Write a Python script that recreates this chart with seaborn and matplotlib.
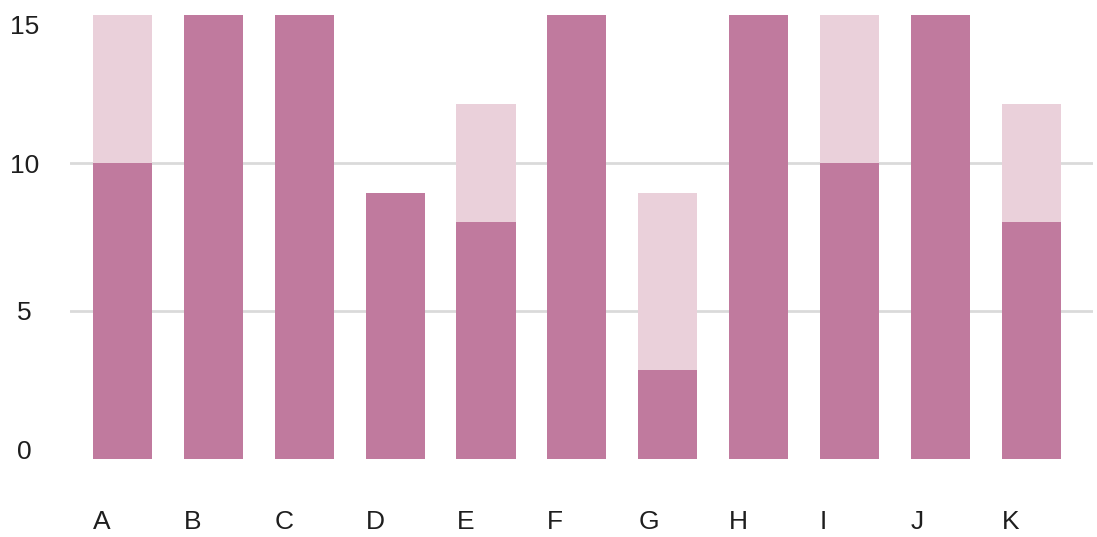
import matplotlib
matplotlib.use("Agg")
import matplotlib.pyplot as plt
import seaborn as sns
import pandas as pd

categories = ["A", "B", "C", "D", "E", "F", "G", "H", "I", "J", "K"]
base_values = [10, 18, 20, 9, 8, 17, 3, 19, 10, 16, 8]
total_values = [18, 18, 20, 9, 12, 17, 9, 19, 16, 16, 12]
y_ticks = [0, 5, 10, 15]

DARK = "#C07A9E"
LIGHT = "#EAD0DA"
GRID = "#DADADA"
TEXT = "#1E1E1E"
BAR_W = 0.65

sns.set_theme(style="white")
plt.rcParams["font.family"] = ["Liberation Sans", "DejaVu Sans"]

df = pd.DataFrame({"cat": categories, "base": base_values, "total": total_values})

fig = plt.figure(figsize=(10.97, 5.37), dpi=100)
ax = fig.add_axes([0.0638, 0.1453, 0.9326, 0.8267])

sns.barplot(data=df, x="cat", y="total", color=LIGHT, width=BAR_W,
            saturation=1, ax=ax, zorder=2, linewidth=0)
sns.barplot(data=df, x="cat", y="base", color=DARK, width=BAR_W,
            saturation=1, ax=ax, zorder=3, linewidth=0)

ax.set_ylim(0, 15)
ax.set_xlim(-0.578, len(categories) - 1 + 0.68)
ax.set_xlabel("")
ax.set_ylabel("")
for s in ax.spines.values():
    s.set_visible(False)

# horizontal grid only at interior ticks
ax.set_yticks(y_ticks)
ax.yaxis.grid(True, color=GRID, linewidth=2, zorder=1)
ax.set_axisbelow(True)
for val, gl in zip(y_ticks, ax.yaxis.get_gridlines()):
    if val in (y_ticks[0], y_ticks[-1]):
        gl.set_visible(False)

ax.set_yticklabels([str(v) for v in y_ticks])
ax.tick_params(axis="y", length=0, pad=33, labelsize=19, labelcolor=TEXT)
for val, lab in zip(y_ticks, ax.get_yticklabels()):
    lab.set_horizontalalignment("center")
    if val == y_ticks[-1]:
        lab.set_verticalalignment("top")
    elif val == y_ticks[0]:
        lab.set_verticalalignment("baseline")
    else:
        lab.set_verticalalignment("center_baseline")

# category labels sit under the left edge of each bar
ax.set_xticks([i - BAR_W / 2 for i in range(len(categories))])
ax.set_xticklabels(categories, ha="left")
ax.tick_params(axis="x", length=0, pad=37, labelsize=19, labelcolor=TEXT)

fig.savefig("out.png", dpi=100)
